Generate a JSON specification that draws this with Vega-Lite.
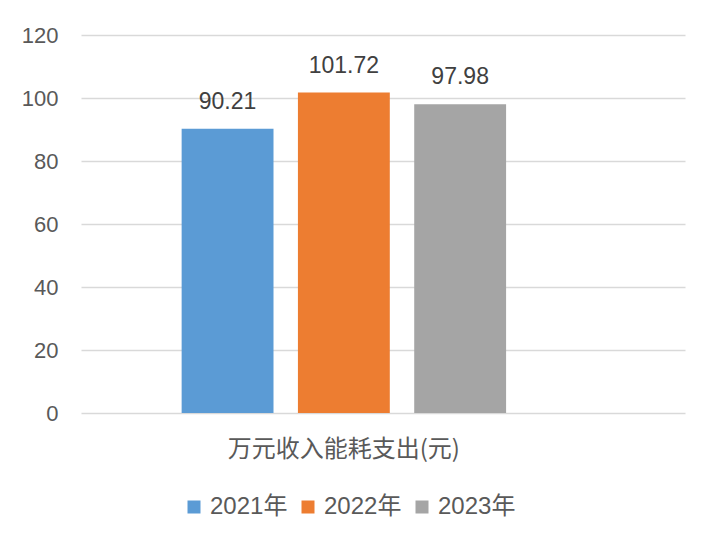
{
  "$schema": "https://vega.github.io/schema/vega-lite/v6.json",
  "autosize": {"type": "none"},
  "padding": {"left": 81, "top": 35, "right": 34, "bottom": 137},
  "width": 604,
  "height": 378,
  "background": "white",
  "config": {
    "view": {"stroke": null},
    "font": "Liberation Sans, Noto Sans CJK SC"
  },
  "data": {
    "values": [
      {"category": "万元收入能耗支出(元)", "year": "2021年", "value": 90.21},
      {"category": "万元收入能耗支出(元)", "year": "2022年", "value": 101.72},
      {"category": "万元收入能耗支出(元)", "year": "2023年", "value": 97.98}
    ]
  },
  "encoding": {
    "x": {
      "field": "category",
      "type": "nominal",
      "scale": {"paddingInner": 0, "paddingOuter": 0.4308, "align": 0.36},
      "axis": {
        "title": null,
        "labelAngle": 0,
        "labelLimit": 0,
        "domain": false,
        "ticks": false,
        "labelPadding": 24,
        "labelFontSize": 24,
        "labelColor": "#595959",
        "labelFont": "Noto Sans CJK SC"
      }
    },
    "xOffset": {
      "field": "year",
      "type": "nominal",
      "scale": {"paddingInner": 0.21, "paddingOuter": 0}
    },
    "y": {
      "field": "value",
      "type": "quantitative",
      "scale": {"domain": [0, 120], "nice": false},
      "axis": {
        "title": null,
        "values": [0, 20, 40, 60, 80, 100, 120],
        "domain": false,
        "ticks": false,
        "tickSize": 0,
        "labelPadding": 23,
        "labelFontSize": 22,
        "labelColor": "#595959",
        "gridColor": "#D9D9D9",
        "gridWidth": 1.5
      }
    }
  },
  "layer": [
    {
      "mark": {"type": "bar"},
      "encoding": {
        "color": {
          "field": "year",
          "type": "nominal",
          "scale": {"range": ["#5B9BD5", "#ED7D31", "#A5A5A5"]},
          "legend": {
            "title": null,
            "orient": "none",
            "legendX": 101,
            "legendY": 460,
            "direction": "horizontal",
            "symbolType": "square",
            "symbolSize": 169,
            "symbolStrokeWidth": 0,
            "labelFontSize": 24,
            "labelColor": "#595959",
            "labelOffset": 4,
            "columnPadding": 8
          }
        }
      }
    },
    {
      "mark": {"type": "text", "baseline": "alphabetic", "dy": -20, "fontSize": 23, "color": "#404040"},
      "encoding": {
        "text": {"field": "value", "type": "quantitative", "format": ".2f"}
      }
    }
  ]
}
